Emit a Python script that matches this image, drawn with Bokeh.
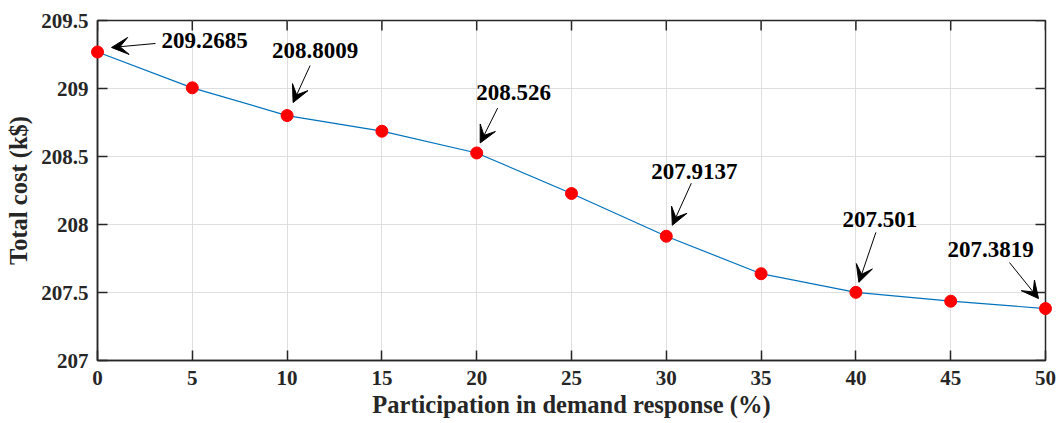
from bokeh.plotting import figure
from bokeh.models import ColumnDataSource, Arrow, VeeHead, FixedTicker, Range1d
from bokeh.embed import file_html
from bokeh.resources import INLINE
from bokeh.core.properties import value

# ---------------- data ----------------
participation = [0, 5, 10, 15, 20, 25, 30, 35, 40, 45, 50]
total_cost = [209.2685, 209.005, 208.8009, 208.686, 208.526, 208.228,
              207.9137, 207.638, 207.501, 207.436, 207.3819]
x_ticks = [0, 5, 10, 15, 20, 25, 30, 35, 40, 45, 50]
y_ticks = [207, 207.5, 208, 208.5, 209, 209.5]
y_tick_labels = ["207", "207.5", "208", "208.5", "209", "209.5"]
annotated_x = [0, 10, 20, 30, 40, 50]
annotation_texts = ["209.2685", "208.8009", "208.526", "207.9137", "207.501", "207.3819"]

# pixel offsets (screen, y down) of arrow head / tail / text centre from each annotated point
head_off = [(14, -4.5), (6, -13), (3.5, -10), (6, -11), (3, -10), (-7, -10)]
tail_off = [(58, -8.5), (23, -50), (21, -45), (25, -53), (20, -60), (-36, -46)]
text_off = [(107, -11.5), (28, -65), (37, -60), (28, -65), (24, -73), (-55, -59)]

# ---------------- layout ----------------
W, H = 1057, 423
LEFT, RIGHT, TOP, BOTTOM = 97, 12, 20, 63
x0, x1 = 0, 50
y0, y1 = 207, 209.5
px_x = (W - LEFT - RIGHT) / (x1 - x0)
px_y = (H - TOP - BOTTOM) / (y1 - y0)
TICK = 10

AX = "#262626"
FONT = "Liberation Serif, Times New Roman, serif"

p = figure(width=W, height=H, x_range=Range1d(x0, x1), y_range=Range1d(y0, y1),
           output_backend="svg", toolbar_location=None,
           min_border_left=LEFT, min_border_right=RIGHT,
           min_border_top=TOP, min_border_bottom=BOTTOM)
p.background_fill_color = "white"
p.border_fill_color = "white"
p.outline_line_color = AX
p.outline_line_width = 1.5

for ax in (p.xaxis[0], p.yaxis[0]):
    ax.axis_line_color = AX
    ax.axis_line_width = 1.5
    ax.major_tick_line_color = AX
    ax.major_tick_line_width = 1.5
    ax.major_tick_in = TICK
    ax.major_tick_out = 0
    ax.minor_tick_line_color = None
    ax.major_label_text_font = FONT
    ax.major_label_text_font_style = "bold"
    ax.major_label_text_color = AX
    ax.major_label_text_font_size = "21px"
    ax.axis_label_text_font = FONT
    ax.axis_label_text_font_style = "bold"
    ax.axis_label_text_font_size = "24.5px"
    ax.axis_label_text_color = AX

p.xaxis.ticker = FixedTicker(ticks=x_ticks)
p.yaxis.ticker = FixedTicker(ticks=y_ticks)
p.yaxis.major_label_overrides = {t: l for t, l in zip(y_ticks, y_tick_labels)}
p.xaxis.axis_label = "Participation in demand response (%)"
p.yaxis.axis_label = "Total cost (k$)"
p.xaxis.major_label_standoff = 10
p.yaxis.major_label_standoff = 9
p.xaxis.axis_label_standoff = 3
p.yaxis.axis_label_standoff = 6

p.xgrid.ticker = FixedTicker(ticks=x_ticks)
p.ygrid.ticker = FixedTicker(ticks=y_ticks)
for g in (p.xgrid[0], p.ygrid[0]):
    g.grid_line_color = "#dfdfdf"
    g.grid_line_width = 1

# inward ticks on the top and right edges of the box
p.segment(x0=x_ticks, y0=[y1] * len(x_ticks), x1=x_ticks,
          y1=[y1 - TICK / px_y] * len(x_ticks), line_color=AX, line_width=1.5)
p.segment(x0=[x1] * len(y_ticks), y0=y_ticks, x1=[x1 - TICK / px_x] * len(y_ticks),
          y1=y_ticks, line_color=AX, line_width=1.5)

src = ColumnDataSource(dict(x=participation, y=total_cost))
p.line("x", "y", source=src, line_color="#0072BD", line_width=1.2)
p.scatter("x", "y", source=src, size=12, fill_color="#FF0000", line_color="#FF0000",
          level="overlay")

# ---------------- annotations ----------------
cost_at = dict(zip(participation, total_cost))
tx, ty = [], []
for i, xv in enumerate(annotated_x):
    yv = cost_at[xv]
    hx, hy = head_off[i]
    sx, sy = tail_off[i]
    cx, cy = text_off[i]
    p.add_layout(Arrow(x_start=xv + sx / px_x, y_start=yv - sy / px_y,
                       x_end=xv + hx / px_x, y_end=yv - hy / px_y,
                       line_color="black", line_width=1,
                       end=VeeHead(size=17, fill_color="black", line_color="black",
                                   line_width=1)))
    tx.append(xv + cx / px_x)
    ty.append(yv - cy / px_y)

tsrc = ColumnDataSource(dict(x=tx, y=ty, t=annotation_texts))
p.text("x", "y", text="t", source=tsrc, text_align="center", text_baseline="middle",
       text_font=value(FONT), text_font_style="bold", text_font_size="23px",
       text_color="black")

open("out.html", "w").write(file_html(p, INLINE))
